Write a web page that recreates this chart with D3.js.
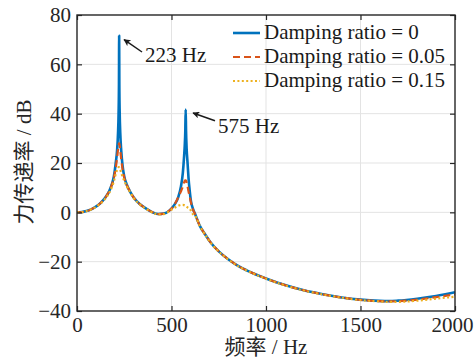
<!DOCTYPE html>
<html><head><meta charset="utf-8">
<script src="https://cdn.jsdelivr.net/npm/d3@7"></script>
<style>body{margin:0;background:#fff}svg{display:block}</style>
</head><body>
<svg id="c" width="474" height="358"></svg>
<script>
const freq = [0,25,50,75,100, 125,150,170,185,195, 205,212,217,220,222, 223,224,226,229,234,
  241,250,262,280,300, 330,360,400,430,460, 490,515,535,550,560, 566,570,573,575,577,
  580,585,590,596,603, 612,625,650,680,705, 750,800,850,900,1000, 1100,1200,1300,1400,1500,
  1600,1650,1700,1800,1900,2000];
const zeta0 = [0,0.1,0.5,1.2,2.3, 3.8,6,8.5,11.5,14.5, 20,25,32,40,52, 71.6,52,40,32,25,
  19,14.5,11.5,8.5,6, 3.5,1.8,0,-0.7,-0.5, 0.8,3,6,10.5,16, 22,27,33,41.7,33,
  26,20,14,9,4.5, 1.8,-0.7,-5.5,-9.2,-12, -15.8,-19,-21.6,-23.6,-26.8, -29.5,-31.6,-33.2,-34.5,-35.4,
  -35.9,-36,-35.8,-35,-33.9,-32.4];
const zeta005 = [0,0.1,0.5,1.2,2.3, 3.8,6,8.5,11.3,14, 18,22,25.5,27.2,28, 28,27.8,27,25,21.5,
  17.5,14,11.3,8.5,6, 3.5,1.8,0,-0.7,-0.5, 0.8,3,6,8.5,10.5, 12,12.8,13,13,12.8,
  12,10.5,8.5,6.5,4, 1.5,-0.8,-5.5,-9.2,-12, -15.8,-19,-21.6,-23.6,-26.8, -29.5,-31.6,-33.2,-34.5,-35.5,
  -36,-36.1,-36,-35.4,-34.4,-33.3];
const zeta015 = [0,0.1,0.5,1.2,2.2, 3.6,5.6,7.8,10.3,12.5, 15.5,17.2,18,18.3,18.3, 18.2,18.1,17.8,17.2,16,
  14.5,12.8,10.8,8.3,5.8, 3.4,1.7,-0.1,-0.8,-0.7, 0.6,1.8,2.6,3,3, 2.9,2.8,2.7,2.6,2.5,
  2.3,2,1.8,1.5,0.6, -0.6,-1.4,-5.6,-9.3,-12.1, -15.9,-19.1,-21.7,-23.7,-26.9, -29.6,-31.7,-33.3,-34.6,-35.6,
  -36.1,-36.3,-36.3,-35.8,-35,-34.2];
const seriesNames = ["Damping ratio = 0","Damping ratio = 0.05","Damping ratio = 0.15"];
const xTicks = [0,500,1000,1500,2000];
const yTicks = [-40,-20,0,20,40,60,80];
const peakLabels = ["223 Hz","575 Hz"];
const peakArrows = [[249,70,344,65,360,60.9],[614,40.3,730,37.1,746,32.2]];

const svg = d3.select("#c");
const L=77,R=455,T=15,B=311;
const x = d3.scaleLinear().domain([0,2000]).range([L,R]);
const y = d3.scaleLinear().domain([-40,80]).range([B,T]);
const serif = "'Liberation Serif','Times New Roman',serif";
const cjk = "'Liberation Serif','Noto Sans CJK SC',serif";
const FS = 21;

// grid
const g = svg.append("g");
g.selectAll(".gx").data(xTicks.slice(1,-1)).join("line")
  .attr("x1",d=>x(d)).attr("x2",d=>x(d)).attr("y1",T).attr("y2",B)
  .attr("stroke","#e3e3e3").attr("stroke-width",1);
g.selectAll(".gy").data(yTicks.slice(1,-1)).join("line")
  .attr("y1",d=>y(d)).attr("y2",d=>y(d)).attr("x1",L).attr("x2",R)
  .attr("stroke","#e3e3e3").attr("stroke-width",1);

// lines
const colors = ["#0072BD","#D95319","#EDB120"];
const dashes = [null,"7,4","2,2.4"];
const widths = [2.6,2.2,2.2];
const data = [zeta0,zeta005,zeta015];
const line = d3.line().x((d,i)=>x(freq[i])).y(d=>y(d)).curve(d3.curveMonotoneX);
data.forEach((s,k)=>{
  svg.append("path").attr("d",line(s)).attr("fill","none")
    .attr("stroke",colors[k]).attr("stroke-width",widths[k])
    .attr("stroke-dasharray",dashes[k]).attr("stroke-linejoin","round");
});

// axes
const axBottom = d3.axisBottom(x).tickValues(xTicks).tickSize(-5).tickPadding(0).tickFormat(d3.format("d"));
const axLeft = d3.axisLeft(y).tickValues(yTicks).tickSize(-5).tickPadding(0).tickFormat(d=>d<0?"\u2212"+(-d):d);
const axTop = d3.axisTop(x).tickValues(xTicks).tickSize(-5).tickFormat("");
const axRight = d3.axisRight(y).tickValues(yTicks).tickSize(-5).tickFormat("");
function style(sel){
  sel.select(".domain").remove();
  sel.selectAll("line").attr("stroke","#262626").attr("stroke-width",1.2);
  sel.selectAll("text").attr("font-family",serif).attr("font-size",FS).attr("fill","#262626");
}
const gb = svg.append("g").attr("transform",`translate(0,${B})`).call(axBottom).call(style);
gb.selectAll("text").attr("dy",null).attr("y",21);
gb.selectAll("text").filter(d=>d===2000).attr("text-anchor","end").attr("x",473-R);
const gl = svg.append("g").attr("transform",`translate(${L},0)`).call(axLeft).call(style);
gl.selectAll("text").attr("x",-6).attr("dy","0.33em");
svg.append("g").attr("transform",`translate(0,${T})`).call(axTop).call(style);
svg.append("g").attr("transform",`translate(${R},0)`).call(axRight).call(style);
svg.append("rect").attr("x",L).attr("y",T).attr("width",R-L).attr("height",B-T)
  .attr("fill","none").attr("stroke","#262626").attr("stroke-width",1.4);

// labels
svg.append("text").attr("x",(L+R)/2).attr("y",354).attr("text-anchor","middle")
  .attr("font-family",cjk).attr("font-size",FS).attr("fill","#262626").text("频率 / Hz");
svg.append("text").attr("transform","translate(31,162) rotate(-90)").attr("text-anchor","middle")
  .attr("font-family",cjk).attr("font-size",FS).attr("fill","#262626").text("力传递率 / dB");

// annotations
svg.append("defs").append("marker").attr("id","ah").attr("viewBox","0 0 10 10")
  .attr("refX",9).attr("refY",5).attr("markerWidth",9).attr("markerHeight",7)
  .attr("markerUnits","userSpaceOnUse").attr("orient","auto")
  .append("path").attr("d","M0,0 L10,5 L0,10 L2.5,5 Z").attr("fill","#1a1a1a");
peakArrows.forEach((a,i)=>{
  svg.append("line").attr("x1",x(a[2])).attr("y1",y(a[3])).attr("x2",x(a[0])).attr("y2",y(a[1]))
    .attr("stroke","#1a1a1a").attr("stroke-width",1.5).attr("marker-end","url(#ah)");
  svg.append("text").attr("x",x(a[4])).attr("y",y(a[5])).attr("font-family",serif)
    .attr("font-size",FS).attr("fill","#1a1a1a").text(peakLabels[i]);
});

// legend
const lg = svg.append("g");
seriesNames.forEach((n,k)=>{
  const by = 38.5 + k*24;
  lg.append("line").attr("x1",233).attr("x2",260).attr("y1",by-5.5).attr("y2",by-5.5)
    .attr("stroke",colors[k]).attr("stroke-width",widths[k]).attr("stroke-dasharray",dashes[k]);
  lg.append("text").attr("x",264).attr("y",by).attr("font-family",serif).attr("font-size",FS)
    .attr("fill","#1a1a1a").text(n);
});
</script>
</body></html>
